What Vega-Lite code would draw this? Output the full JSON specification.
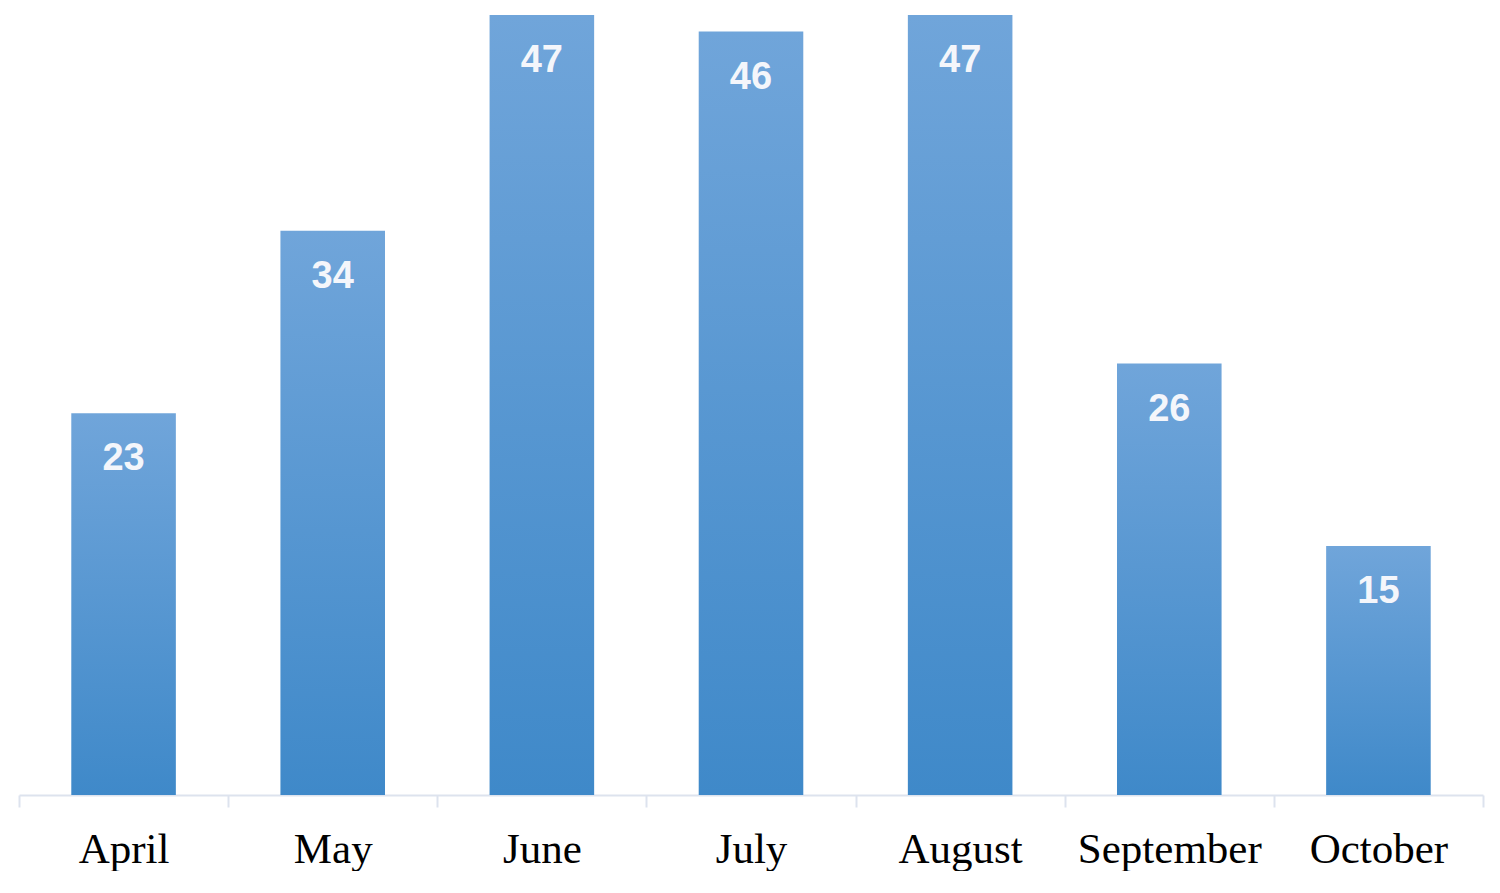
{
  "$schema": "https://vega.github.io/schema/vega-lite/v6.json",
  "width": 1464,
  "height": 780,
  "padding": {"left": 18, "top": 15, "right": 18, "bottom": 0},
  "background": "white",
  "config": {"view": {"stroke": null}},
  "data": {
    "values": [
      {"month": "April", "count": 23},
      {"month": "May", "count": 34},
      {"month": "June", "count": 47},
      {"month": "July", "count": 46},
      {"month": "August", "count": 47},
      {"month": "September", "count": 26},
      {"month": "October", "count": 15}
    ]
  },
  "encoding": {
    "x": {
      "field": "month",
      "type": "nominal",
      "sort": null,
      "scale": {"paddingInner": 0, "paddingOuter": 0},
      "axis": {
        "title": null,
        "labelAngle": 0,
        "labelFont": "Liberation Serif",
        "labelFontSize": 43,
        "labelLimit": 0,
        "labelOverlap": false,
        "labelColor": "#000000",
        "labelBaseline": "top",
        "labelPadding": 21,
        "domainColor": "#dde3ee",
        "domainWidth": 2,
        "tickColor": "#dde3ee",
        "tickWidth": 2,
        "tickSize": 12,
        "tickBand": "extent"
      }
    },
    "y": {
      "field": "count",
      "type": "quantitative",
      "scale": {"domain": [0, 47], "nice": false, "zero": true},
      "axis": null
    }
  },
  "layer": [
    {
      "mark": {
        "type": "bar",
        "width": {"band": 0.5},
        "color": {
          "gradient": "linear",
          "x1": 0, "y1": 0, "x2": 0, "y2": 1,
          "stops": [
            {"offset": 0, "color": "#70a5da"},
            {"offset": 1, "color": "#3f89c9"}
          ]
        }
      }
    },
    {
      "mark": {
        "type": "text",
        "font": "Liberation Sans",
        "fontWeight": "bold",
        "fontSize": 38,
        "color": "#f4f6fb",
        "baseline": "alphabetic",
        "align": "center",
        "dy": 57
      },
      "encoding": {
        "text": {"field": "count", "type": "quantitative"}
      }
    }
  ]
}
